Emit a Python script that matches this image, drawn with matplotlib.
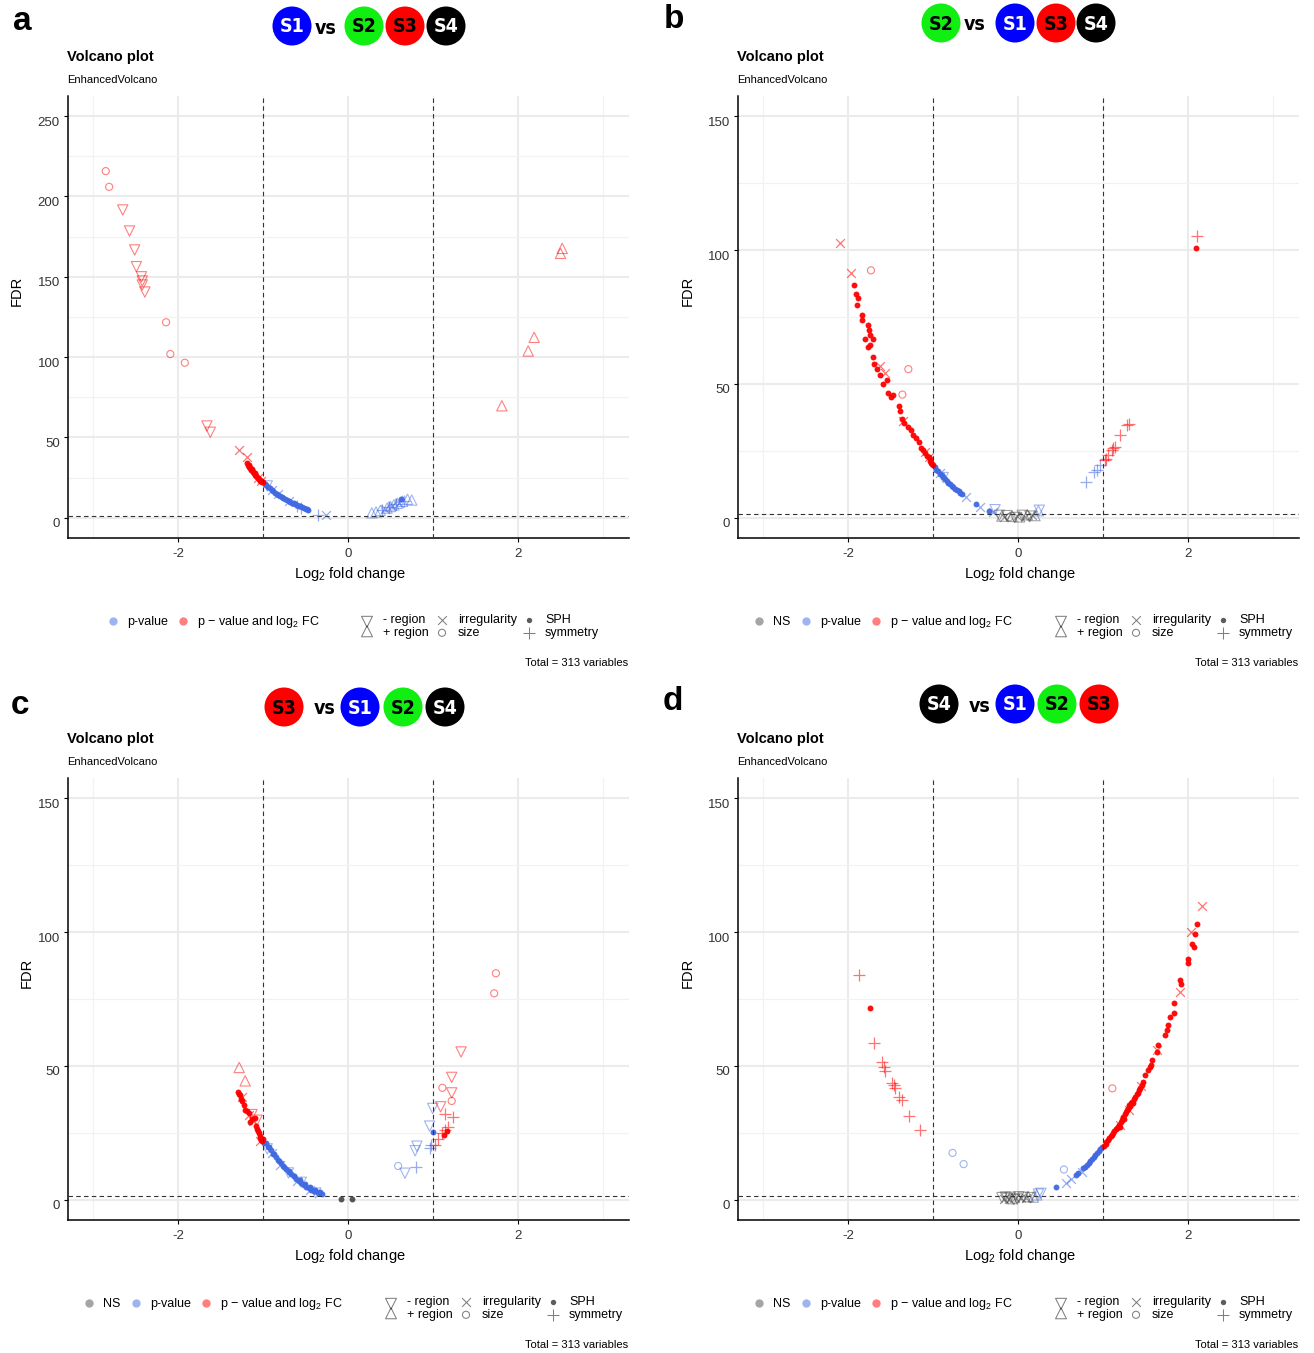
import numpy as np
import matplotlib
matplotlib.use("Agg")
import matplotlib.pyplot as plt
from matplotlib.patches import Circle
from matplotlib.transforms import ScaledTranslation
from matplotlib import font_manager

plt.rcParams['font.family'] = ['Liberation Sans', 'DejaVu Sans']
plt.rcParams['mathtext.fontset'] = 'custom'
plt.rcParams['mathtext.rm'] = 'Liberation Sans'
plt.rcParams['mathtext.it'] = 'Liberation Sans:italic'
plt.rcParams['mathtext.bf'] = 'Liberation Sans:bold'
plt.rcParams['axes.unicode_minus'] = False

# ---------------- data: log2 fold change, FDR (-log10), feature class ----------------
# panel a : S1 vs S2 S3 S4
a_x = [-2.85, -2.81, -2.65, -2.57, -2.51, -2.49, -2.43, -2.42, -2.42, -2.39,
       -2.14, -2.09, -1.92, -1.66, -1.62, -1.28, -1.19,
       -1.19, -1.18, -1.17, -1.16, -1.16, -1.15, -1.14, -1.13, -1.13, -1.12, -1.11,
       -1.10, -1.10, -1.09, -1.08, -1.07, -1.06, -1.05, -1.04, -1.03, -1.02, -1.01,
       -1.06, -1.02,
       -1.00, -0.98, -0.96, -0.94, -0.92, -0.90, -0.88, -0.86, -0.84, -0.82, -0.80,
       -0.78, -0.76, -0.74, -0.72, -0.70, -0.68, -0.66, -0.64, -0.62, -0.60, -0.58,
       -0.56, -0.54, -0.52, -0.50, -0.48, -0.47,
       -0.95, -0.90, -0.82, -0.70, -0.60, -0.55, -0.35, -0.26,
       0.28, 0.33, 0.38, 0.40, 0.43, 0.46, 0.48, 0.50, 0.52, 0.54, 0.56, 0.58,
       0.60, 0.62, 0.64, 0.66, 0.70, 0.75,
       1.81, 2.12, 2.19, 2.50, 2.52]
a_y = [215.8, 206.0, 191.6, 178.5, 166.7, 156.3, 150.0, 147.4, 144.9, 140.5,
       121.7, 101.9, 96.5, 57.1, 53.2, 42.2, 38.0,
       34.0, 33.0, 32.6, 31.5, 32.2, 31.0, 29.8, 29.5, 30.4, 28.6, 27.8,
       27.2, 28.0, 26.5, 25.8, 25.2, 24.6, 24.1, 23.6, 23.0, 22.6, 22.3,
       25.0, 23.0,
       22.2, 21.1, 20.1, 19.1, 18.2, 17.3, 16.5, 15.7, 14.9, 14.2, 13.5,
       12.9, 12.2, 11.6, 11.0, 10.5, 10.0, 9.4, 8.9, 8.4, 7.9, 7.4,
       7.0, 6.6, 6.1, 5.7, 5.2, 4.8,
       19.8, 17.0, 14.6, 10.2, 7.6, 6.2, 2.0, 1.6,
       3.0, 3.6, 4.5, 5.0, 5.6, 6.0, 6.6, 7.0, 7.5, 8.0, 8.4, 9.0,
       9.4, 11.5, 10.2, 10.6, 11.5, 11.0,
       69.7, 103.8, 112.3, 164.6, 167.7]
a_shape = (['size', 'size'] + ['minus'] * 8 + ['size', 'size', 'size', 'minus', 'minus', 'irr', 'irr']
           + ['sph'] * 22 + ['irr', 'irr']
           + ['sph'] * 28
           + ['minus', 'irr', 'irr', 'irr', 'sym', 'sym', 'sym', 'irr']
           + ['plus', 'plus', 'plus', 'sym', 'irr', 'plus', 'sym', 'plus', 'irr', 'plus', 'sym', 'plus',
              'irr', 'sph', 'plus', 'sym', 'plus', 'plus']
           + ['plus'] * 5)

# panel b : S2 vs S1 S3 S4
b_x = [-2.09, -1.96, -1.73,
       -1.93, -1.91, -1.88, -1.89, -1.84, -1.83, -1.77, -1.75, -1.74, -1.80, -1.71,
       -1.74, -1.76, -1.71, -1.70, -1.66, -1.62, -1.54, -1.59, -1.53, -1.49, -1.47,
       -1.40, -1.39, -1.36, -1.34, -1.30, -1.26, -1.24, -1.20, -1.17, -1.14, -1.12,
       -1.09, -1.07, -1.05, -1.04, -1.03, -1.02, -1.01,
       -1.62, -1.56, -1.35, -1.10, -1.05, -1.29, -1.36,
       -1.00, -0.98, -0.96, -0.94, -0.92, -0.90, -0.88, -0.86, -0.84, -0.82, -0.80,
       -0.78, -0.76, -0.74, -0.72, -0.70, -0.68, -0.66,
       -0.92, -0.88, -0.61, -0.49, -0.45, -0.34, -0.27, -0.30, 0.24, 0.25,
       -0.22, -0.19, -0.16, -0.13, -0.10, -0.07, -0.04, -0.01, 0.02, 0.05, 0.08,
       0.11, 0.14, 0.17, 0.20,
       2.11, 2.09, 1.28, 1.30, 1.20, 1.14, 1.12, 1.10, 1.06, 1.04, 1.02,
       0.96, 0.93, 0.89, 0.80]
b_y = [102.8, 91.4, 92.4,
       86.8, 83.7, 81.9, 79.5, 75.6, 74.0, 71.9, 70.0, 68.2, 66.9, 66.6,
       64.4, 63.6, 60.1, 57.6, 55.7, 53.2, 51.4, 50.1, 46.6, 45.1, 45.8,
       41.7, 39.9, 36.7, 35.2, 33.8, 32.7, 30.9, 29.6, 28.4, 25.9, 25.3,
       24.0, 23.2, 22.6, 21.8, 21.3, 20.5, 20.0,
       56.6, 53.9, 36.0, 24.5, 22.5, 55.5, 46.0,
       19.6, 18.8, 18.0, 17.3, 16.5, 15.8, 15.1, 14.4, 13.8, 13.1, 12.5,
       11.9, 11.3, 10.8, 10.3, 9.8, 9.4, 9.0,
       16.6, 15.0, 7.8, 5.2, 3.9, 2.6, 3.0, 2.0, 2.6, 2.8,
       0.9, 0.6, 0.3, 0.8, 0.2, 0.5, 0.1, 0.7, 0.3, 0.9, 0.4,
       1.1, 0.6, 1.2, 0.8,
       105.1, 100.9, 34.6, 35.0, 30.9, 26.5, 26.0, 25.3, 23.4, 22.0, 21.5,
       19.7, 18.0, 17.2, 13.4]
b_shape = (['irr', 'irr', 'size']
           + ['sph'] * 40
           + ['irr', 'irr', 'irr', 'irr', 'irr', 'size', 'size']
           + ['sph'] * 18
           + ['irr', 'minus', 'irr', 'sph', 'irr', 'sph', 'minus', 'irr', 'plus', 'minus']
           + ['minus', 'plus', 'irr', 'minus', 'size', 'plus', 'minus', 'irr', 'plus', 'minus', 'irr',
              'plus', 'minus', 'irr', 'plus']
           + ['sym', 'sph'] + ['sym'] * 9
           + ['sym'] * 4)

# panel c : S3 vs S1 S2 S4
c_x = [-1.28, -1.21,
       -1.29, -1.28, -1.27, -1.26, -1.25, -1.22, -1.21, -1.19, -1.16, -1.15, -1.13,
       -1.10, -1.08, -1.07, -1.06, -1.05, -1.04, -1.03, -1.02, -1.01,
       -1.25, -1.16, -1.12, -1.03, -1.07, -1.13,
       -1.00, -0.97, -0.94, -0.91, -0.88, -0.85, -0.82, -0.79, -0.76, -0.73, -0.70,
       -0.67, -0.64, -0.61, -0.58, -0.55, -0.52, -0.49, -0.46, -0.43, -0.40, -0.37,
       -0.34, -0.31, -0.99, -0.93, -0.87, -0.81, -0.75, -0.69, -0.63, -0.57, -0.51,
       -0.45, -0.39, -0.33,
       -0.95, -0.90, -0.80, -0.70, -0.60, -0.55, -0.45, -0.38,
       -0.08, 0.05,
       1.33, 1.22, 1.11, 1.22, 1.22, 1.09, 1.14, 1.24, 1.18, 1.14, 1.11, 1.06, 1.02,
       1.74, 1.72, 1.16, 1.13,
       0.996, 0.96, 0.995, 0.96, 0.98, 0.81, 0.79, 0.59, 0.67, 0.80]
c_y = [49.4, 44.4,
       40.3, 39.6, 39.1, 37.5, 36.8, 35.3, 33.7, 33.0, 32.5, 29.1, 30.0,
       30.7, 27.5, 26.6, 25.5, 24.8, 23.8, 23.0, 22.3, 21.8,
       38.5, 31.5, 29.5, 22.0, 29.7, 31.8,
       22.5, 21.2, 19.8, 18.6, 17.2, 16.0, 14.8, 13.6, 12.5, 11.5, 10.6,
       9.6, 8.8, 7.9, 7.1, 6.3, 5.6, 4.9, 4.3, 3.7, 3.2, 2.8,
       2.4, 2.1, 21.3, 19.6, 17.0, 14.6, 12.4, 10.5, 8.9, 7.3, 5.9,
       4.7, 3.6, 2.8,
       19.0, 17.5, 13.0, 10.0, 7.0, 6.5, 3.5, 2.5,
       0.1, 0.1,
       55.2, 45.7, 41.8, 39.9, 36.9, 34.7, 32.2, 31.0, 27.2, 26.0, 24.8, 22.5, 20.4,
       84.6, 77.1, 25.5, 24.0,
       34.1, 27.5, 25.4, 19.2, 20.5, 20.0, 18.3, 12.6, 9.9, 12.3]
c_shape = (['plus', 'plus']
           + ['sph'] * 20
           + ['irr', 'irr', 'irr', 'irr', 'minus', 'minus']
           + ['sph'] * 36
           + ['minus', 'irr', 'irr', 'minus', 'irr', 'minus', 'irr', 'minus']
           + ['sph', 'sph']
           + ['minus', 'minus', 'size', 'minus', 'size', 'minus', 'sym', 'sym', 'sym', 'sym', 'sym',
              'sym', 'sym']
           + ['size', 'size', 'sph', 'sph']
           + ['minus', 'minus', 'sph', 'sym', 'sym', 'minus', 'minus', 'size', 'minus', 'sym'])

# panel d : S4 vs S1 S2 S3
d_x = [-1.87, -1.74, -1.70, -1.60, -1.58, -1.56, -1.48, -1.46, -1.45, -1.40, -1.37,
       -1.28, -1.15,
       -0.77, -0.64,
       -0.19, -0.17, -0.15, -0.13, -0.11, -0.09, -0.07, -0.05, -0.03, -0.01, 0.01,
       0.03, 0.06, 0.09, 0.12, 0.15, 0.18,
       0.24, 0.22, 0.27, 0.45, 0.54, 0.57, 0.62, 0.68, 0.70, 0.75,
       0.77, 0.79, 0.81, 0.83, 0.85, 0.87, 0.89, 0.91, 0.93, 0.95, 0.97, 0.99,
       1.01, 1.03, 1.04, 1.06, 1.07, 1.09, 1.10, 1.12, 1.13, 1.15, 1.16, 1.18,
       1.19, 1.21, 1.22, 1.23, 1.24, 1.26, 1.27, 1.28, 1.30, 1.31, 1.33, 1.34,
       1.36, 1.38, 1.40, 1.42, 1.44, 1.46, 1.47, 1.49, 1.53, 1.55, 1.57, 1.58,
       1.63, 1.65, 1.73, 1.75, 1.77, 1.79, 1.83, 1.84, 1.91, 1.92, 2.00, 2.00,
       2.05, 2.07, 2.08, 2.10, 1.25, 1.29, 1.35, 1.41, 1.20, 1.32,
       2.16, 2.04, 1.91, 1.64, 1.45, 1.30, 1.20, 1.11]
d_y = [84.1, 71.8, 58.6, 51.5, 49.5, 48.1, 43.7, 43.0, 41.9, 38.2, 37.2,
       31.3, 26.0,
       17.5, 13.3,
       0.8, 0.3, 1.0, 0.5, 0.2, 0.9, 0.4, 0.1, 0.7, 0.3, 1.1,
       0.5, 0.9, 0.6, 1.2, 0.8, 1.0,
       2.1, 1.8, 2.4, 4.6, 11.3, 6.3, 7.6, 9.2, 9.8, 10.5,
       11.7, 12.3, 13.0, 13.8, 14.5, 15.3, 16.0, 16.8, 17.5, 18.3, 19.0, 19.6,
       20.0, 21.0, 21.6, 22.3, 23.0, 23.8, 24.3, 24.8, 25.6, 26.3, 26.9, 27.2,
       28.0, 29.0, 29.6, 30.4, 31.0, 32.2, 32.8, 33.6, 34.7, 35.2, 36.0, 36.6,
       37.6, 38.4, 39.6, 40.9, 41.6, 43.0, 44.0, 46.5, 48.4, 49.5, 50.3, 52.1,
       55.2, 57.7, 61.4, 63.3, 65.2, 68.1, 69.6, 73.5, 82.0, 80.7, 90.1, 88.6,
       95.7, 94.4, 99.4, 103.1, 30.0, 34.0, 36.2, 40.0, 27.0, 35.0,
       109.6, 100.0, 77.6, 56.0, 42.5, 33.5, 28.0, 41.6]
d_shape = (['sym', 'sph'] + ['sym'] * 11
           + ['size', 'size']
           + ['minus', 'irr', 'minus', 'minus', 'irr', 'minus', 'plus', 'minus', 'irr', 'minus', 'minus',
              'irr', 'minus', 'irr', 'plus', 'minus', 'plus']
           + ['minus', 'plus', 'minus', 'sph', 'size', 'irr', 'irr', 'sph', 'sph', 'irr']
           + ['sph'] * 12
           + ['sph'] * 58
           + ['irr'] * 7 + ['size'])

panel_data = {
    'a': (a_x, a_y, a_shape, 250),
    'b': (b_x, b_y, b_shape, 150),
    'c': (c_x, c_y, c_shape, 150),
    'd': (d_x, d_y, d_shape, 150),
}

groups = {'a': ['S1', 'vs', 'S2', 'S3', 'S4'],
          'b': ['S2', 'vs', 'S1', 'S3', 'S4'],
          'c': ['S3', 'vs', 'S1', 'S2', 'S4'],
          'd': ['S4', 'vs', 'S1', 'S2', 'S3']}

FC_CUT = 1.0
P_CUT = -np.log10(0.05)
N_TOTAL = 313

# ---------------- styling ----------------
COL = {'NS': '#4D4D4D', 'p': '#4169E1', 'both': '#FF0000'}
GROUP_FILL = {'S1': '#0000FF', 'S2': '#11EE11', 'S3': '#FF0000', 'S4': '#000000'}
GROUP_TEXT = {'S1': 'white', 'S2': 'black', 'S3': 'black', 'S4': 'white'}
SHAPES = {
    'minus': dict(marker='v', s=55, open=True),
    'plus': dict(marker='^', s=55, open=True),
    'irr': dict(marker='x', s=40, open=False),
    'size': dict(marker='o', s=26, open=True),
    'sph': dict(marker='o', s=18, open=False),
    'sym': dict(marker='+', s=70, open=False),
}

# condensed face for the comparison header
_fonts = font_manager.fontManager.ttflist
if any(f.name == 'Liberation Sans Narrow' for f in _fonts):
    HEAD_FONT = dict(family=['Liberation Sans Narrow', 'DejaVu Sans'], fontsize=15.5)
elif any(f.name == 'DejaVu Sans' and f.stretch == 'condensed' for f in _fonts):
    HEAD_FONT = dict(family=['DejaVu Sans'], fontstretch='condensed', fontsize=14)
else:
    HEAD_FONT = dict(family=['Liberation Sans', 'DejaVu Sans'], fontsize=14)

W, H = 1314, 1353
fig = plt.figure(figsize=(W / 100, H / 100), dpi=100)


def px_rect(l, t, r, b):
    return [l / W, 1 - b / H, (r - l) / W, (b - t) / H]


AX_POS = {'a': (67.5, 96.1), 'b': (737.5, 96.1), 'c': (67.5, 778.1), 'd': (737.5, 778.1)}
AX_W, AX_H = 561.0, 441.7


def draw_volcano(ax, xs, ys, shapes, ymax):
    xs = np.asarray(xs, float)
    ys = np.asarray(ys, float)
    shapes = np.asarray(shapes)
    cat = np.where(ys < P_CUT, 'NS', np.where(np.abs(xs) >= FC_CUT, 'both', 'p'))
    for key, st in SHAPES.items():
        for c in ['NS', 'p', 'both']:
            m = (shapes == key) & (cat == c)
            if not m.any():
                continue
            if key == 'sph':
                ax.scatter(xs[m], ys[m], marker='o', s=st['s'], color=COL[c],
                           linewidths=0, alpha=0.95, zorder=4)
            elif st['open']:
                ax.scatter(xs[m], ys[m], marker=st['marker'], s=st['s'], facecolors='none',
                           edgecolors=COL[c], linewidths=0.8, alpha=0.5, zorder=3)
            else:
                ax.scatter(xs[m], ys[m], marker=st['marker'], s=st['s'], facecolors=COL[c],
                           edgecolors=COL[c], linewidths=0.9, alpha=0.55, zorder=3)

    ax.set_xlim(-3.3, 3.3)
    ax.set_ylim(-0.05 * ymax, 1.05 * ymax)
    ax.set_xticks([-2, 0, 2])
    ax.set_xticks([-3, -1, 1, 3], minor=True)
    ax.set_yticks(np.arange(0, ymax + 1, 50))
    ax.set_yticks(np.arange(25, ymax, 50), minor=True)
    ax.grid(which='major', color='#EBEBEB', lw=1.5)
    ax.grid(which='minor', color='#F2F2F2', lw=0.9)
    ax.set_axisbelow(True)
    for s in ['top', 'right']:
        ax.spines[s].set_visible(False)
    for s in ['left', 'bottom']:
        ax.spines[s].set_color('black')
        ax.spines[s].set_linewidth(1.1)
    ax.tick_params(which='major', length=3, width=0.8, color='black', pad=2.5,
                   labelsize=9.5, labelcolor='#333333')
    ax.tick_params(which='minor', length=0)
    # tick labels sit a little below their ticks
    dy = ScaledTranslation(0, -5 / 100, fig.dpi_scale_trans)
    for lab in ax.get_yticklabels():
        lab.set_transform(lab.get_transform() + dy)
    dx = ScaledTranslation(0, -3 / 100, fig.dpi_scale_trans)
    for lab in ax.get_xticklabels():
        lab.set_transform(lab.get_transform() + dx)
    dash = (0, (4, 3))
    ax.axvline(-FC_CUT, color='#333333', lw=0.8, ls=dash, zorder=5)
    ax.axvline(FC_CUT, color='#333333', lw=0.8, ls=dash, zorder=5)
    ax.axhline(P_CUT, color='#333333', lw=0.8, ls=dash, zorder=5)
    return set(cat)


overlay = fig.add_axes([0, 0, 1, 1], zorder=10)
overlay.set_xlim(0, W)
overlay.set_ylim(H, 0)
overlay.axis('off')
overlay.patch.set_visible(False)

header_x = {'a': [292, 326, 364, 405, 446], 'b': [941, 975, 1015, 1056, 1096],
            'c': [284, 325, 360, 403, 445], 'd': [939, 980, 1015, 1057, 1099]}
header_y = {'a': 26, 'b': 23, 'c': 707, 'd': 704}
letter_pos = {'a': (22, 22), 'b': (674, 20), 'c': (20, 706), 'd': (673, 702)}
ylab_x = {'a': 17, 'b': 688, 'c': 27, 'd': 688}

legend_first = {'a': 113, 'b': 759, 'c': 89, 'd': 759}
legend_shape_x = {'a': 367, 'b': 1061, 'c': 391, 'd': 1061}

ptxt = r'p $-$ value and log$_{2}$ FC'
cat_label = {'NS': 'NS', 'p': 'p-value', 'both': ptxt}

for key in ['a', 'b', 'c', 'd']:
    l, t = AX_POS[key]
    ax = fig.add_axes(px_rect(l, t, l + AX_W, t + AX_H))
    xs, ys, shapes, ymax = panel_data[key]
    present = draw_volcano(ax, xs, ys, shapes, ymax)

    # titles and axis labels
    overlay.text(l - 0.5, t - 39, 'Volcano plot', fontsize=10.5, fontweight='bold',
                 ha='left', va='center')
    overlay.text(l - 0.5, t - 16, 'EnhancedVolcano', fontsize=8, ha='left', va='center')
    overlay.text(ylab_x[key], t + AX_H * 0.44, 'FDR', fontsize=10.5, rotation=90,
                 ha='center', va='center')
    overlay.text(l + AX_W * 0.503, t + AX_H + 36, r'Log$_{2}$ fold change', fontsize=10.5,
                 ha='center', va='center')
    overlay.text(l + AX_W, t + AX_H + 125, 'Total = %d variables' % N_TOTAL, fontsize=8,
                 ha='right', va='center')

    # colour legend
    ly = t + AX_H + 83
    lx = legend_first[key]
    order = [c for c in ['NS', 'p', 'both'] if c in present]
    gaps = {'NS': 47, 'p': 70}
    for c in order:
        overlay.scatter([lx], [ly], s=36, color=COL[c], alpha=0.5, linewidths=0)
        overlay.text(lx + 14, ly + 1, cat_label[c], fontsize=9, ha='left', va='center')
        lx += gaps.get(c, 0)

    # shape legend
    sx = legend_shape_x[key]
    r1, r2 = ly - 1, ly + 12
    overlay.scatter([sx], [ly + 1], marker='v', s=62, facecolors='none', edgecolors='black',
                    alpha=0.5, linewidths=0.75)
    overlay.scatter([sx], [ly + 10.5], marker='^', s=62, facecolors='none', edgecolors='black',
                    alpha=0.5, linewidths=0.75)
    overlay.text(sx + 16, r1, '- region', fontsize=9, ha='left', va='center')
    overlay.text(sx + 16, r2, '+ region', fontsize=9, ha='left', va='center')
    overlay.scatter([sx + 75], [r1], marker='x', s=40, color='black', alpha=0.5, linewidths=0.75)
    overlay.scatter([sx + 75], [r2], marker='o', s=26, facecolors='none', edgecolors='black',
                    alpha=0.5, linewidths=0.75)
    overlay.text(sx + 91, r1, 'irregularity', fontsize=9, ha='left', va='center')
    overlay.text(sx + 91, r2, 'size', fontsize=9, ha='left', va='center')
    overlay.scatter([sx + 162], [r1], marker='o', s=15, color='#333333', alpha=0.8, linewidths=0)
    overlay.scatter([sx + 162], [r2], marker='+', s=70, color='black', alpha=0.5, linewidths=0.75)
    overlay.text(sx + 178, r1, 'SPH', fontsize=9, ha='left', va='center')
    overlay.text(sx + 178, r2, 'symmetry', fontsize=9, ha='left', va='center')

    # comparison header
    hy = header_y[key]
    for gx, g in zip(header_x[key], groups[key]):
        if g == 'vs':
            overlay.text(gx, hy + 2, 'vs', fontweight='bold', ha='center', va='center',
                         **HEAD_FONT)
        else:
            overlay.add_patch(Circle((gx, hy), 19.5, color=GROUP_FILL[g], lw=0))
            overlay.text(gx, hy + 1, g, fontweight='bold', color=GROUP_TEXT[g],
                         ha='center', va='center', **HEAD_FONT)

    lx0, ly0 = letter_pos[key]
    overlay.text(lx0, ly0, key, fontsize=24, fontweight='bold', ha='center', va='center')

fig.savefig('out.png', dpi=100)
